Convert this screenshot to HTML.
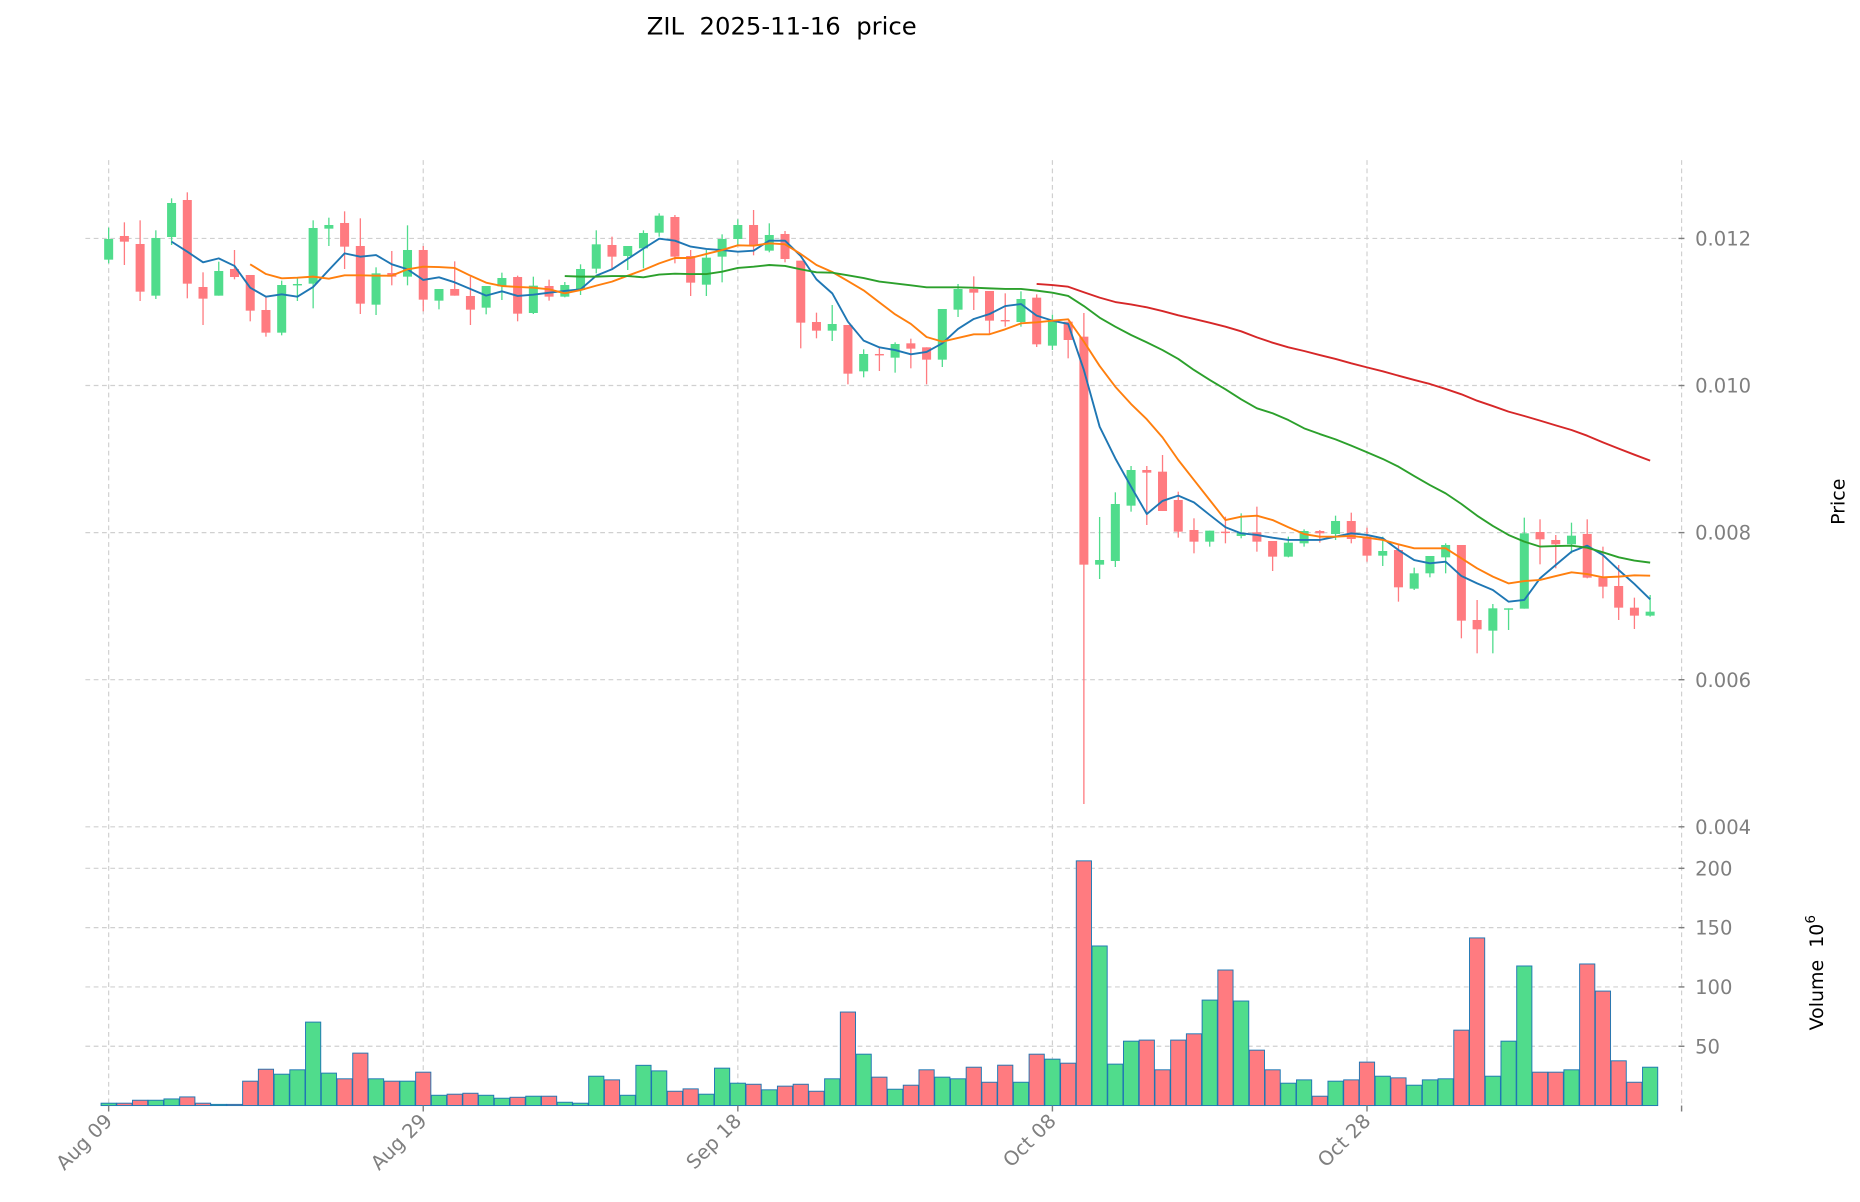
<!DOCTYPE html>
<html><head><meta charset="utf-8">
<style>html,body{margin:0;padding:0;background:#fff;}svg{display:block;}</style>
</head><body>
<svg id="c" xmlns="http://www.w3.org/2000/svg" width="1860" height="1202" viewBox="0 0 1568 1013.3" preserveAspectRatio="none" font-family="DejaVu Sans, Liberation Sans, sans-serif">
<rect width="1568" height="1014" fill="#fff"/>
<g id="grid" stroke="#d0d0d0" stroke-width="1" stroke-dasharray="4,3" fill="none"></g>
<g id="vol"></g>
<g id="cand"></g>
<g id="ma" fill="none" stroke-width="1.6" stroke-linejoin="round"></g>
<g id="ax" fill="#7f7f7f" font-size="16.5"></g>
<text x="659" y="29" font-size="20.5" text-anchor="middle" fill="#000" xml:space="preserve" style="white-space:pre">ZIL  2025-11-16  price</text>
<text transform="translate(1555,423) rotate(-90)" font-size="16" text-anchor="middle" fill="#000">Price</text>
<text transform="translate(1537,820) rotate(-90)" font-size="16" text-anchor="middle" fill="#000" xml:space="preserve" style="white-space:pre">Volume  10<tspan dy="-7" font-size="11.5">6</tspan></text>
</svg>
<script>
var NS="http://www.w3.org/2000/svg";
function el(p,t,a,txt){var e=document.createElementNS(NS,t);for(var k in a)e.setAttribute(k,a[k]);if(txt!==undefined)e.textContent=txt;document.getElementById(p).appendChild(e);return e;}
function X(i){return 91.6+13.26*i;}
function Y(z){return 126.45+z*0.2810;}
var C=[
[267,329,233,340,1],[258,275,217,345,0],[282,425,211,453,0],[264,437,241,447,1],[159,261,145,285,1],
[150,401,127,445,0],[411,446,367,525,0],[363,437,335,437,1],[357,381,300,388,0],[375,482,375,514,0],
[480,548,440,560,0],[405,548,392,556,1],[402,404,385,453,1],[234,401,211,475,1],[225,236,203,288,1],
[219,290,184,357,0],[288,461,205,492,0],[370,464,352,495,1],[369,380,303,406,0],[300,380,226,406,1],
[300,449,288,484,0],[417,452,417,478,1],[417,437,334,437,0],[438,479,380,525,0],[408,473,408,493,1],
[384,409,368,450,1],[381,491,377,514,0],[407,489,380,492,1],[408,440,389,452,0],[405,440,396,442,1],
[357,420,343,435,1],[283,356,241,370,1],[285,320,260,355,0],[288,318,288,360,1],[249,295,241,355,1],
[197,248,190,260,1],[201,320,195,340,0],[318,398,300,438,0],[323,404,300,438,1],[267,320,253,397,1],
[225,267,208,285,1],[225,287,180,316,0],[255,302,220,307,1],[252,327,243,337,0],[332,518,332,595,0],
[516,542,488,565,0],[522,542,465,573,1],[525,671,525,703,0],[612,664,598,682,1],[612,616,592,663,0],
[582,623,577,668,1],[580,596,566,655,0],[592,629,592,703,0],[477,629,477,651,1],[417,479,402,501,1],
[417,428,379,480,0],[423,512,423,553,0],[510,514,430,530,0],[447,516,424,530,1],[443,583,433,591,0],
[510,587,494,600,1],[515,570,515,625,0],[560,1244,489,1962,0],[1230,1244,1101,1287,1],[1062,1233,1027,1251,1],
[960,1067,948,1085,1],[960,968,948,1125,0],[965,1083,915,1083,0],[1050,1145,1025,1163,0],[1140,1175,1105,1210,0],
[1142,1175,1142,1190,1],[1145,1149,1100,1180,0],[1148,1158,1090,1165,1],[1147,1175,1070,1205,0],[1173,1220,1173,1263,0],
[1178,1220,1160,1222,1],[1143,1180,1138,1190,1],[1143,1150,1140,1178,0],[1113,1152,1097,1170,1],[1113,1167,1088,1180,0],
[1160,1217,1133,1235,0],[1203,1217,1160,1248,1],[1200,1312,1185,1355,0],[1270,1316,1253,1320,1],[1218,1270,1218,1282,1],
[1185,1222,1180,1270,1],[1185,1412,1185,1465,0],[1410,1438,1350,1510,0],[1375,1442,1362,1510,1],[1375,1378,1375,1440,1],
[1150,1376,1103,1376,1],[1146,1168,1108,1243,0],[1170,1183,1155,1255,0],[1157,1183,1118,1210,1],[1152,1283,1108,1285,0],
[1283,1310,1190,1345,0],[1308,1373,1245,1410,0],[1373,1397,1343,1437,0],[1385,1397,1335,1400,1]];
var V=[2,2,4.5,4.5,5.6,7.3,2,1,1,20.6,30.7,26.5,30.2,70.5,27.4,22.6,44.3,22.6,20.6,20.6,28.2,8.7,9.6,10.4,8.7,6.2,7,7.9,7.9,2.8,2,24.8,21.7,8.7,34,29.3,12.1,14.1,9.6,31.6,18.9,18,13.3,16.4,18,12.1,22.6,79,43.4,24,13.8,17.2,30.2,24,22.6,32.4,19.7,34.1,19.7,43.4,39.2,35.8,206.7,134.8,35,54.4,55.3,30.2,55.3,60.6,89.1,114.5,88.3,46.8,30.2,18.9,21.7,7.9,20.6,21.7,36.7,24.8,23.4,17.2,21.7,22.6,63.7,141.6,24.8,54.4,117.9,28.2,28.2,30.2,119.6,96.7,37.8,19.7,32.4];
var UP="#50dc8c",DN="#ff7b80";
var L=72,R=1415;
[0.012,0.010,0.008,0.006,0.004].forEach(function(p,k){var y=201+124*k;el("grid","line",{x1:L,x2:R,y1:y,y2:y});});
[200,150,100,50].forEach(function(v){var y=932-v;el("grid","line",{x1:L,x2:R,y1:y,y2:y});});
for(var k=0;k<=5;k++){var x=X(20*k);el("grid","line",{x1:x,x2:x,y1:135,y2:932});}
for(var i=0;i<V.length;i++){var h=V[i]*0.998;el("vol","rect",{x:X(i)-6.4,y:932-h,width:12.8,height:h,fill:C[i][4]?UP:DN,stroke:"#1f77b4","stroke-width":0.8});}
for(var i=0;i<C.length;i++){var c=C[i],col=c[4]?UP:DN,x=X(i);
el("cand","line",{x1:x,x2:x,y1:Y(c[2]),y2:Y(c[3]),stroke:col,"stroke-width":1.1});
var t=Y(c[0]),b=Y(c[1]);if(b-t<1.2)b=t+1.2;
el("cand","rect",{x:x-3.8,y:t,width:7.6,height:b-t,fill:col});}
function ma(start,arr,col){var s="";for(var j=0;j<arr.length;j++){s+=(j?"L":"M")+X(start+j).toFixed(1)+","+Y(arr[j]).toFixed(1);}el("ma","path",{d:s,stroke:col});}
ma(4,[275,305,337,325,348,413,440,433,440,411,360,310,320,315,343,358,390,382,397,417,437,424,438,434,428,423,418,377,358,327,296,266,272,
290,297,300,305,302,272,272,318,388,430,515,572,592,600,613,606,580,537,507,492,468,462,497,512,522,660,830,925,1010,1092,1053,1037,1057,1095,1132,1150,1155,
1163,1170,1170,1170,1160,1150,1155,1165,1200,1230,1240,1235,1278,1300,1320,1355,1350,1285,1245,1205,1187,1215,1260,1302,1348],"#1f77b4");
ma(9,[343,372,385,383,380,386,376,376,377,377,358,350,351,354,377,398,408,411,413,418,430,420,407,395,377,360,340,324,
324,312,300,286,287,280,283,312,345,366,393,421,457,493,522,561,575,564,553,553,538,520,517,512,508,575,648,710,762,808,862,930,990,1050,1110,1100,1097,
1110,1132,1152,1160,1160,1158,1163,1170,1183,1195,1195,1195,1225,1255,1280,1300,1293,1290,1278,1267,1272,1282,1280,1276,1277],"#ff7f0e");
ma(29,[378,380,380,378,378,382,374,371,
372,372,365,354,350,345,348,358,367,368,376,384,395,400,406,412,412,412,413,415,417,417,422,428,438,468,503,530,555,577,600,627,660,690,718,748,775,
790,810,835,852,868,887,907,927,950,978,1005,1030,1062,1097,1128,1155,1175,1190,1188,1187,1193,1207,1222,1232,1238],"#2ca02c");
ma(59,[402,405,410,427,443,456,463,472,483,496,507,518,530,544,562,
578,592,603,615,627,640,652,664,677,690,702,717,733,752,768,785,798,812,826,840,857,877,896,914,932],"#d62728");
["0.012","0.010","0.008","0.006","0.004"].forEach(function(s,k){var y=201+124*k;
el("ax","line",{x1:R,x2:R+5,y1:y,y2:y,stroke:"#7f7f7f","stroke-width":1.2});
el("ax","text",{x:1429,y:y+6},s);});
[200,150,100,50].forEach(function(v){var y=932-v;
el("ax","line",{x1:R,x2:R+5,y1:y,y2:y,stroke:"#7f7f7f","stroke-width":1.2});
el("ax","text",{x:1429,y:y+6},String(v));});
var labs=["Aug 09","Aug 29","Sep 18","Oct 08","Oct 28"];
for(var k=0;k<=5;k++){var x=X(20*k);
el("ax","line",{x1:x,x2:x,y1:932,y2:937,stroke:"#7f7f7f","stroke-width":1.2});
if(k<5){el("ax","text",{transform:"translate("+(x+4)+",946) rotate(-45)","text-anchor":"end"},labs[k]);}}
</script>
</body></html>
